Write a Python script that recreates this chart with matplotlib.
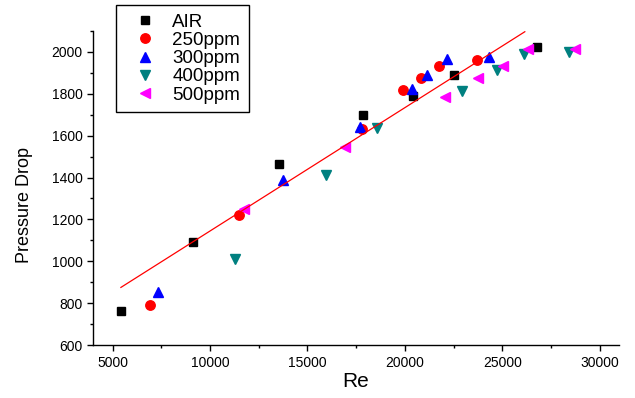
import numpy as np
import matplotlib
matplotlib.use("Agg")
from matplotlib import pyplot as plt
from matplotlib.ticker import MultipleLocator

# data
air_re = [5430, 9120, 13560, 17840, 20430, 22520, 26790]
air_dp = [764, 1094, 1465, 1697, 1790, 1889, 2022]

p250_re = [6930, 11480, 17790, 19920, 20820, 21770, 23720]
p250_dp = [792, 1221, 1630, 1818, 1876, 1932, 1962]

p300_re = [7310, 13740, 17700, 20370, 21120, 22150, 24330]
p300_dp = [852, 1389, 1643, 1821, 1888, 1967, 1975]

p400_re = [11290, 15960, 18560, 22930, 24710, 26130, 28440]
p400_dp = [1013, 1414, 1638, 1814, 1913, 1989, 2000]

p500_re = [11770, 16930, 22060, 23750, 25050, 26330, 28730]
p500_dp = [1250, 1545, 1786, 1873, 1932, 2011, 2011]

fit_re = [5430, 26160]
fit_dp = [876, 2095]

plt.rcParams['font.family'] = ['Liberation Sans', 'DejaVu Sans']

fig = plt.figure(figsize=(6.35, 3.98), dpi=100)
ax = fig.add_axes([0.1465, 0.1324, 0.975 - 0.1465, 0.9229 - 0.1324])

ax.plot(air_re, air_dp, 's', color='black', ms=5.8, label='AIR')
ax.plot(p250_re, p250_dp, 'o', color='red', ms=6.8, label='250ppm')
ax.plot(p300_re, p300_dp, '^', color='blue', ms=7, label='300ppm')
ax.plot(p400_re, p400_dp, 'v', color='#008080', ms=7, label='400ppm')
ax.plot(p500_re, p500_dp, '<', color='magenta', ms=7, label='500ppm')
ax.plot(fit_re, fit_dp, '-', color='red', lw=0.9)

ax.set_xlim(4000, 31000)
ax.set_ylim(600, 2100)
ax.xaxis.set_major_locator(MultipleLocator(5000))
ax.xaxis.set_minor_locator(MultipleLocator(2500))
ax.yaxis.set_major_locator(MultipleLocator(200))
ax.yaxis.set_minor_locator(MultipleLocator(100))

for s in ['top', 'right']:
    ax.spines[s].set_visible(False)
for s in ['left', 'bottom']:
    ax.spines[s].set_linewidth(1.0)

ax.tick_params(which='major', direction='out', length=4, width=1.0, labelsize=10)
ax.tick_params(which='minor', direction='out', length=2, width=1.0)

ax.set_xlabel('Re', fontsize=15, labelpad=2)
ax.set_ylabel('Pressure Drop', fontsize=13)
ax.yaxis.set_label_coords(-0.114, 0.446)

leg = ax.legend(loc='upper left', bbox_to_anchor=(116 / 635, 1 - 5 / 398),
                bbox_transform=fig.transFigure, fontsize=13.5, frameon=True,
                fancybox=False, edgecolor='black', framealpha=1,
                labelspacing=0.06, handletextpad=0.35, borderpad=0.45,
                handlelength=2.2, borderaxespad=0)
leg.get_frame().set_linewidth(1.0)

fig.savefig('out.png', dpi=100)
